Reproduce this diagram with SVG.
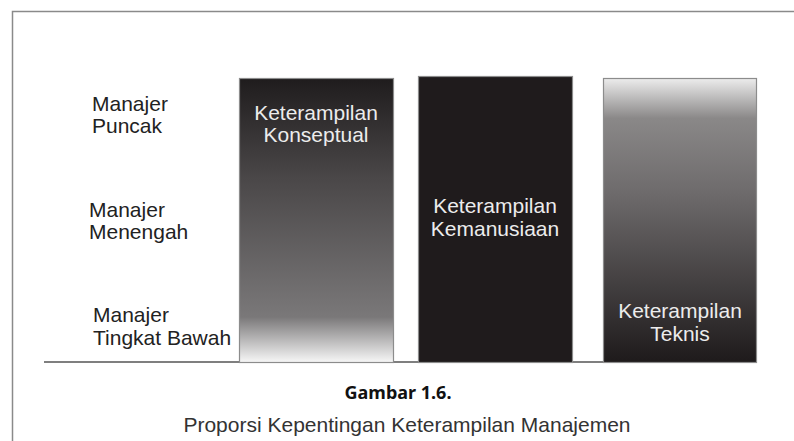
<svg xmlns="http://www.w3.org/2000/svg" width="794" height="441" viewBox="0 0 794 441">
<style>
.lbl{font-family:"Liberation Sans",Arial,sans-serif;font-size:21px;fill:#222}
.bar{font-family:"Liberation Sans",Arial,sans-serif;font-size:21px;fill:#ececec;text-anchor:middle}
.frame{stroke:#8a8a8a;stroke-width:1.5;fill:none}
.barbox{stroke:#8c8c8c;stroke-width:1.2}
</style>
<defs>
<linearGradient id="g1" x1="0" y1="0" x2="0" y2="1">
<stop offset="0" stop-color="#1f1c1d"/>
<stop offset="0.35" stop-color="#4a4748"/>
<stop offset="0.84" stop-color="#7a7879"/>
<stop offset="1" stop-color="#f7f7f7"/>
</linearGradient>
<linearGradient id="g3" x1="0" y1="0" x2="0" y2="1">
<stop offset="0" stop-color="#ececec"/>
<stop offset="0.14" stop-color="#8a8888"/>
<stop offset="0.4" stop-color="#6e6b6c"/>
<stop offset="1" stop-color="#1e1a1b"/>
</linearGradient>
</defs>
<g id="frame">
<path class="frame" d="M12.5 441 V11.5 H794"/>
<line x1="44" y1="362" x2="603" y2="362" stroke="#555" stroke-width="1.3"/>
</g>
<g id="levels">
<text class="lbl" x="92" y="111">Manajer</text>
<text class="lbl" x="92" y="133">Puncak</text>
<text class="lbl" x="89" y="217">Manajer</text>
<text class="lbl" x="89" y="239">Menengah</text>
<text class="lbl" x="93" y="322">Manajer</text>
<text class="lbl" x="93" y="345">Tingkat Bawah</text>
</g>
<g id="konseptual">
<rect class="barbox" x="239.5" y="78.5" width="154" height="284" fill="url(#g1)"/>
<text class="bar" x="316" y="120">Keterampilan</text>
<text class="bar" x="316" y="142">Konseptual</text>
</g>
<g id="kemanusiaan">
<rect class="barbox" x="418.5" y="76.5" width="154" height="286" fill="#1f1b1c"/>
<text class="bar" x="495" y="213">Keterampilan</text>
<text class="bar" x="495" y="236">Kemanusiaan</text>
</g>
<g id="teknis">
<rect class="barbox" x="603.5" y="78.5" width="153" height="284" fill="url(#g3)"/>
<text class="bar" x="680" y="318">Keterampilan</text>
<text class="bar" x="680" y="341">Teknis</text>
</g>
<g id="caption">
<text x="398" y="399" text-anchor="middle" font-family="'Noto Sans','Open Sans',sans-serif" font-weight="bold" font-size="18" fill="#111">Gambar 1.6.</text>
<text x="407" y="432" text-anchor="middle" font-family="'Liberation Sans',Arial,sans-serif" font-size="21" fill="#333">Proporsi Kepentingan Keterampilan Manajemen</text>
</g>
</svg>
